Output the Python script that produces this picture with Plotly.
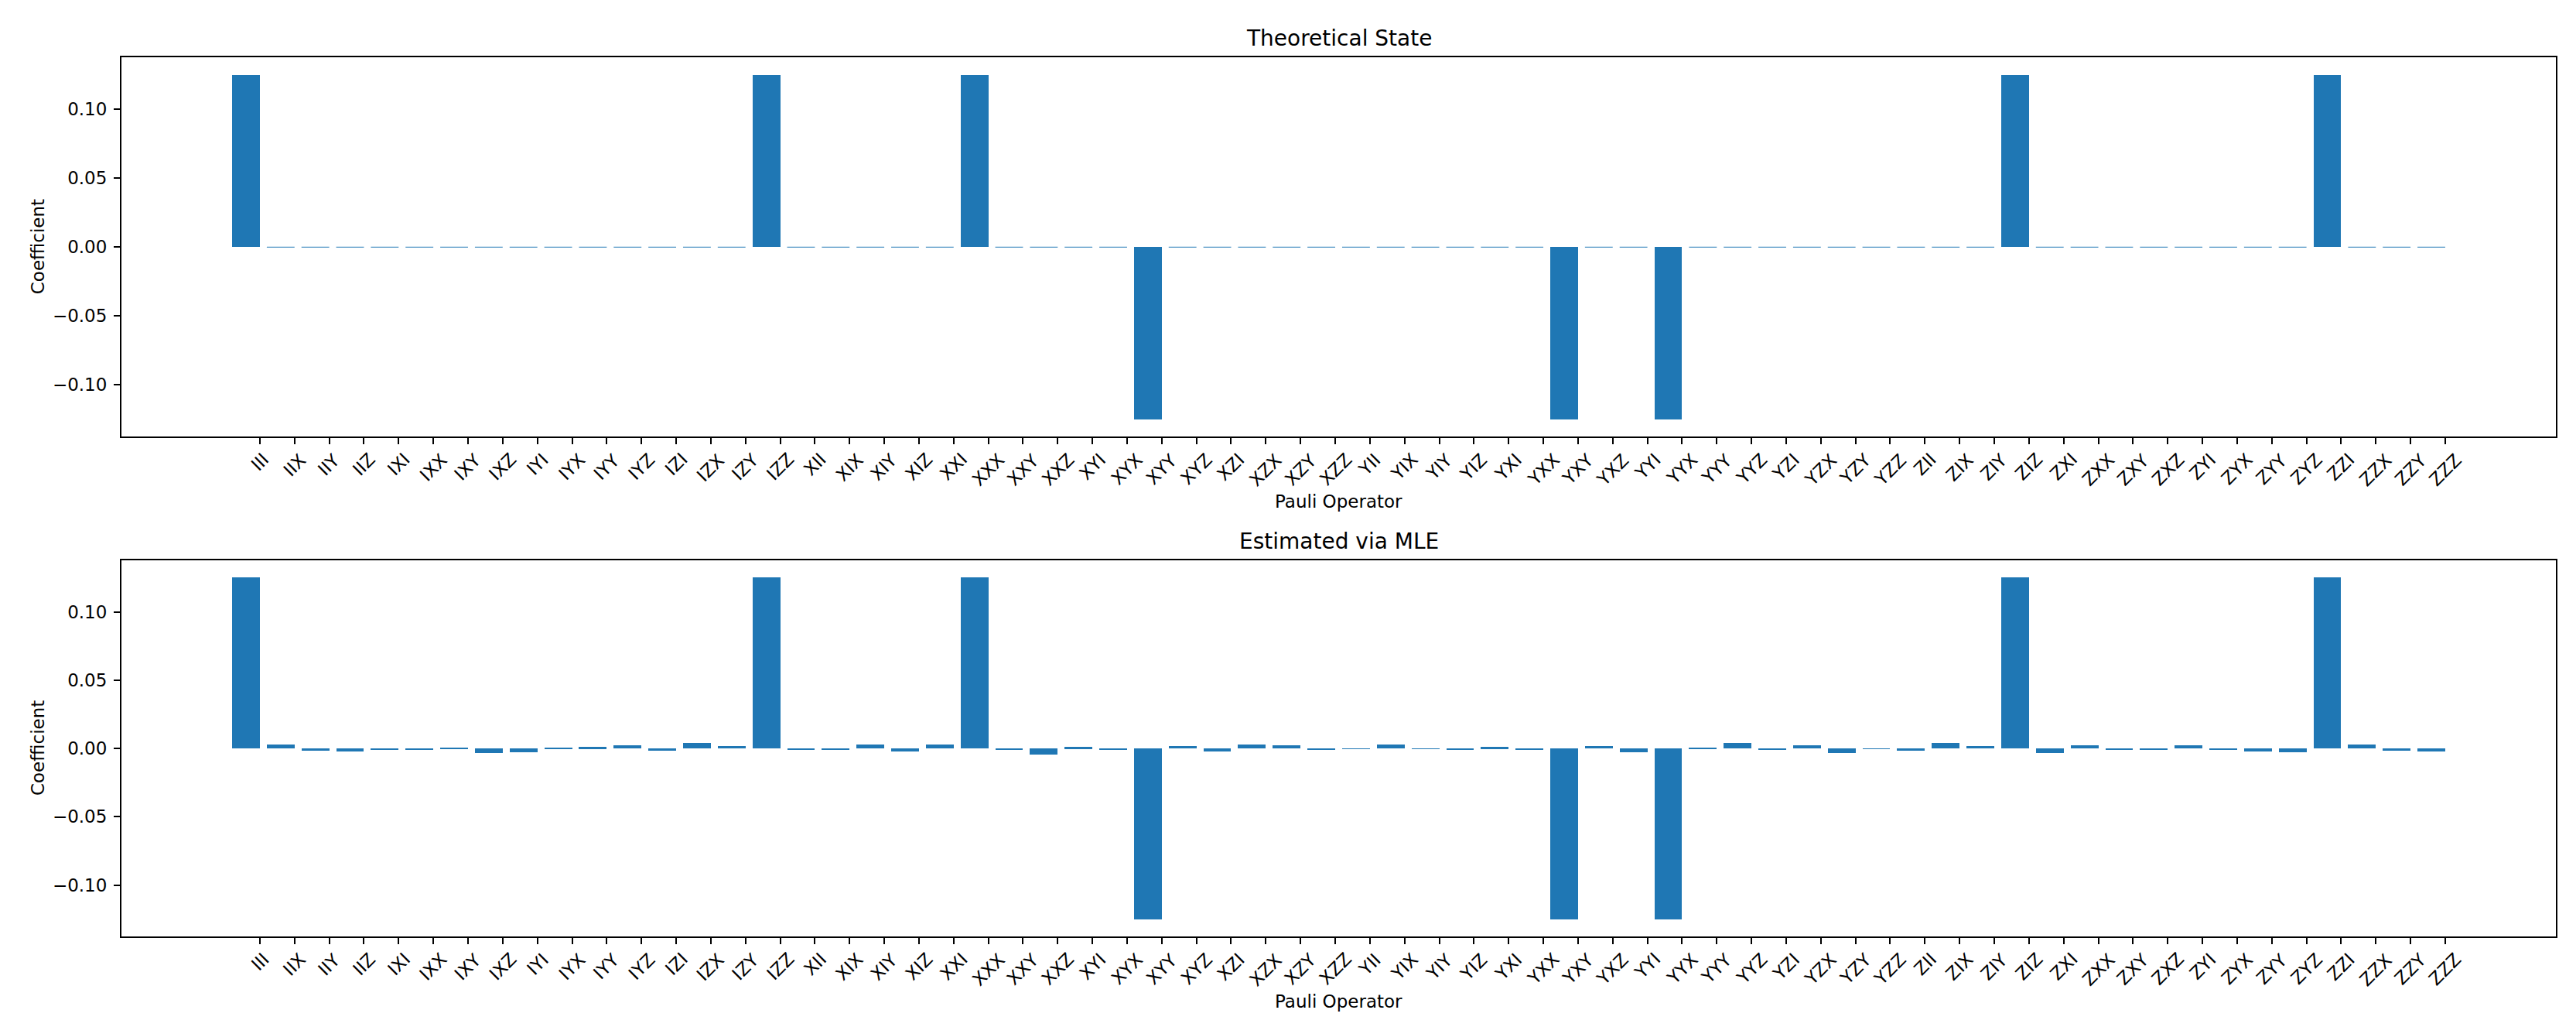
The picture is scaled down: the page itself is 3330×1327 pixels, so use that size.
import plotly.graph_objects as go
from plotly.subplots import make_subplots

pauli_labels = [
    "III", "IIX", "IIY", "IIZ", "IXI", "IXX", "IXY", "IXZ",
    "IYI", "IYX", "IYY", "IYZ", "IZI", "IZX", "IZY", "IZZ",
    "XII", "XIX", "XIY", "XIZ", "XXI", "XXX", "XXY", "XXZ",
    "XYI", "XYX", "XYY", "XYZ", "XZI", "XZX", "XZY", "XZZ",
    "YII", "YIX", "YIY", "YIZ", "YXI", "YXX", "YXY", "YXZ",
    "YYI", "YYX", "YYY", "YYZ", "YZI", "YZX", "YZY", "YZZ",
    "ZII", "ZIX", "ZIY", "ZIZ", "ZXI", "ZXX", "ZXY", "ZXZ",
    "ZYI", "ZYX", "ZYY", "ZYZ", "ZZI", "ZZX", "ZZY", "ZZZ",
]

theoretical = [
    0.125, 0, 0, 0, 0, 0, 0, 0,
    0, 0, 0, 0, 0, 0, 0, 0.125,
    0, 0, 0, 0, 0, 0.125, 0, 0,
    0, 0, -0.125, 0, 0, 0, 0, 0,
    0, 0, 0, 0, 0, 0, -0.125, 0,
    0, -0.125, 0, 0, 0, 0, 0, 0,
    0, 0, 0, 0.125, 0, 0, 0, 0,
    0, 0, 0, 0, 0.125, 0, 0, 0,
]

estimated_mle = [
    0.1250, 0.0028, -0.0015, -0.0021, -0.0010, -0.0009, 0.0003, -0.0034,
    -0.0028, 0.0002, 0.0011, 0.0022, -0.0015, 0.0040, 0.0017, 0.1250,
    -0.0010, -0.0010, 0.0028, -0.0021, 0.0028, 0.1250, -0.0010, -0.0045,
    0.0011, -0.0010, -0.1250, 0.0017, -0.0021, 0.0028, 0.0022, -0.0010,
    -0.0003, 0.0028, -0.0002, -0.0010, 0.0011, -0.0010, -0.1250, 0.0017,
    -0.0028, -0.1250, 0.0002, 0.0040, -0.0010, 0.0022, -0.0034, -0.0003,
    -0.0015, 0.0040, 0.0017, 0.1250, -0.0034, 0.0022, -0.0010, -0.0010,
    0.0022, -0.0010, -0.0021, -0.0028, 0.1250, 0.0028, -0.0015, -0.0021,
]

titles = ["Theoretical State", "Estimated via MLE"]
series = [theoretical, estimated_mle]

BAR_COLOR = "#1f77b4"
FONT = "DejaVu Sans"
TICK_PX = 23
TITLE_PX = 28
BAR_W = 0.8

W, H = 3330, 1327

fig = make_subplots(rows=2, cols=1, vertical_spacing=0.14)

ticks = list(range(len(pauli_labels)))
bar_x = [i - BAR_W / 2 for i in ticks]

for r, (vals, title) in enumerate(zip(series, titles), start=1):
    fig.add_trace(
        go.Bar(x=bar_x, y=vals, width=BAR_W, marker=dict(color=BAR_COLOR, line=dict(width=0)),
               showlegend=False),
        row=r, col=1,
    )
    # zero-height bars appear as hairlines in the reference
    zx, zy = [], []
    for i, v in zip(ticks, vals):
        if v == 0:
            zx += [i - BAR_W, i, None]
            zy += [0, 0, None]
    if zx:
        fig.add_trace(
            go.Scatter(x=zx, y=zy, mode="lines", line=dict(color="rgba(31,119,180,0.8)", width=1.2),
                       showlegend=False, hoverinfo="skip"),
            row=r, col=1,
        )
    xa = "x" if r == 1 else f"x{r}"
    ya = "y" if r == 1 else f"y{r}"
    # title
    fig.add_annotation(text=title, xref=f"{xa} domain", yref=f"{ya} domain", x=0.5, y=1,
                       xanchor="center", yanchor="bottom", yshift=6, showarrow=False,
                       font=dict(family=FONT, size=TITLE_PX, color="black"))
    # x label
    fig.add_annotation(text="Pauli Operator", xref=f"{xa} domain", yref=f"{ya} domain", x=0.5, y=0,
                       xanchor="center", yanchor="middle", yshift=-84, showarrow=False,
                       font=dict(family=FONT, size=TICK_PX, color="black"))
    # y label
    fig.add_annotation(text="Coefficient", xref=f"{xa} domain", yref=f"{ya} domain", x=0, y=0.5,
                       xanchor="center", yanchor="middle", xshift=-108, textangle=-90, showarrow=False,
                       font=dict(family=FONT, size=TICK_PX, color="black"))
    # rotated category labels centred on ticks
    for i, lab in zip(ticks, pauli_labels):
        fig.add_annotation(text=lab, xref=xa, yref=f"{ya} domain", x=i, y=0,
                           xanchor="center", yanchor="top", yshift=-15, textangle=-45,
                           showarrow=False, borderpad=0,
                           font=dict(family=FONT, size=TICK_PX, color="black"))

axis_common = dict(showline=True, linecolor="black", linewidth=2, mirror=True,
                   showgrid=False, zeroline=False, ticks="outside", ticklen=8, tickwidth=2,
                   tickcolor="black")

for r in (1, 2):
    fig.update_xaxes(range=[-3.99, 66.19], tickvals=ticks, showticklabels=False,
                     **axis_common, row=r, col=1)
    fig.update_yaxes(range=[-0.1376, 0.1377], tickvals=[-0.10, -0.05, 0.0, 0.05, 0.10],
                     tickformat=".2f", ticklabelstandoff=4,
                     tickfont=dict(family=FONT, size=TICK_PX, color="black"),
                     **axis_common, row=r, col=1)

fig.update_layout(
    width=W, height=H,
    margin=dict(l=149, r=34, t=66, b=125),
    paper_bgcolor="white", plot_bgcolor="white",
    bargap=0,
    font=dict(family=FONT, size=TICK_PX, color="black"),
)
fig.layout.yaxis.domain = [0.5683, 1.0]
fig.layout.yaxis2.domain = [0.0, 0.4278]

fig.write_html("out.html")
